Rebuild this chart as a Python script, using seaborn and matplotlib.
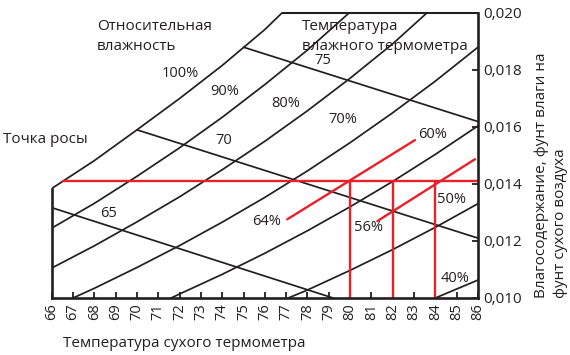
import matplotlib
matplotlib.use("Agg")
import matplotlib.pyplot as plt
import pandas as pd
import seaborn as sns

# dry bulb temperature (F) / humidity ratio (lb water per lb dry air)
rh_100_t = [66, 68, 70, 72, 74, 76, 76.8]
rh_100_w = [0.01384, 0.01482, 0.01590, 0.01700, 0.01816, 0.01942, 0.0200]
rh_90_t = [66, 68, 70, 72, 74, 76, 78, 79.95]
rh_90_w = [0.01245, 0.01332, 0.01427, 0.01527, 0.01634, 0.01749, 0.01870, 0.0200]
rh_80_t = [66, 68, 70, 72, 74, 76, 78, 80, 82, 83.6]
rh_80_w = [0.01105, 0.01183, 0.01267, 0.01355, 0.01450, 0.01550, 0.01657, 0.01771, 0.01892, 0.0200]
rh_70_t = [67.0, 68, 70, 72, 74, 76, 78, 80, 82, 84, 86]
rh_70_w = [0.0100, 0.01034, 0.01107, 0.01184, 0.01266, 0.01353, 0.01446, 0.01545, 0.01650, 0.01761, 0.01880]
rh_60_t = [71.6, 72, 74, 76, 78, 80, 82, 84, 86]
rh_60_w = [0.0100, 0.01014, 0.01083, 0.01157, 0.01236, 0.01320, 0.01409, 0.01504, 0.01604]
rh_50_t = [77.1, 78, 80, 82, 84, 86]
rh_50_w = [0.0100, 0.01028, 0.01097, 0.01170, 0.01248, 0.01331]
rh_40_t = [84.0, 86]
rh_40_w = [0.0100, 0.01063]

# wet bulb lines
wb_65_t = [66, 79.2]
wb_65_w = [0.01317, 0.0100]
wb_70_t = [70.0, 86]
wb_70_w = [0.01590, 0.01210]
wb_75_t = [75.0, 86]
wb_75_w = [0.01880, 0.01619]

# highlighted (red) construction
rh_64_t = [77.05, 83.04]
rh_64_w = [0.01276, 0.01554]
rh_56_t = [81.28, 85.86]
rh_56_w = [0.01270, 0.01487]
dew_t = [66.53, 86]
dew_w = 0.0141
red_dry_bulb = [80, 82, 84]

x_ticks = list(range(66, 87))
y_ticks = [0.010, 0.012, 0.014, 0.016, 0.018, 0.020]
y_tick_labels = ["0,010", "0,012", "0,014", "0,016", "0,018", "0,020"]

black_curves = {
    "100%": (rh_100_t, rh_100_w), "90%": (rh_90_t, rh_90_w), "80%": (rh_80_t, rh_80_w),
    "70%": (rh_70_t, rh_70_w), "60%": (rh_60_t, rh_60_w), "50%": (rh_50_t, rh_50_w),
    "40%": (rh_40_t, rh_40_w), "wb65": (wb_65_t, wb_65_w), "wb70": (wb_70_t, wb_70_w),
    "wb75": (wb_75_t, wb_75_w),
}
red_curves = {"64%": (rh_64_t, rh_64_w), "56%": (rh_56_t, rh_56_w),
              "dew": (dew_t, [dew_w, dew_w])}
for t in red_dry_bulb:
    red_curves[f"db{t}"] = ([t, t], [0.010, dew_w])


def to_frame(curves):
    rows = []
    for name, (ts, ws) in curves.items():
        for t, w in zip(ts, ws):
            rows.append({"curve": name, "t": t, "w": w})
    return pd.DataFrame(rows)


df_black = to_frame(black_curves)
df_red = to_frame(red_curves)

sns.set_theme(style="white")
plt.rcParams["font.family"] = ["Open Sans", "DejaVu Sans"]
ink = "#231f20"
red = "#e8202a"

fig = plt.figure(figsize=(5.7, 3.55), dpi=100)
ax = fig.add_axes([0.0907, 0.1606, 0.7479, 0.8028])

sns.lineplot(data=df_black, x="t", y="w", units="curve", estimator=None, sort=False,
             color=ink, lw=1.25, ax=ax, legend=False)
sns.lineplot(data=df_red, x="t", y="w", units="curve", estimator=None, sort=False,
             color=red, lw=1.7, ax=ax, legend=False)

# chart outline: left edge up to saturation, top edge from saturation
ax.plot([66, 66], [0.010, rh_100_w[0]], color=ink, lw=1.9, clip_on=False,
        solid_capstyle="projecting")
ax.plot([rh_100_t[-1], 86], [0.020, 0.020], color=ink, lw=1.5, clip_on=False)

ax.set_xlim(66, 86)
ax.set_ylim(0.010, 0.020)
ax.set_xlabel("")
ax.set_ylabel("")
for side in ["left", "top"]:
    ax.spines[side].set_visible(False)
for side in ["right", "bottom"]:
    ax.spines[side].set_color(ink)
    ax.spines[side].set_linewidth(1.9)

ax.set_xticks(x_ticks)
ax.set_xticklabels([str(t) for t in x_ticks])
ax.set_yticks(y_ticks)
ax.set_yticklabels(y_tick_labels)
ax.yaxis.tick_right()
ax.tick_params(axis="x", direction="in", length=4, width=1.3, pad=4, labelsize=10.5,
               labelrotation=90, colors=ink, bottom=True)
ax.tick_params(axis="y", direction="in", length=4, width=1.3, pad=4, labelsize=11,
               colors=ink, right=True, left=False)

# curve labels
lab = dict(fontsize=10.5, color=ink, ha="center", va="center")
ax.text(72.02, 0.01789, "100%", **lab)
ax.text(74.13, 0.01726, "90%", **lab)
ax.text(76.99, 0.01681, "80%", **lab)
ax.text(79.67, 0.01625, "70%", **lab)
ax.text(83.89, 0.01575, "60%", **lab)
ax.text(84.78, 0.01347, "50%", **lab)
ax.text(84.92, 0.01070, "40%", **lab)
ax.text(76.10, 0.01270, "64%", **lab)
ax.text(80.84, 0.01246, "56%", **lab)
ax.text(78.73, 0.01832, "75", **lab)
ax.text(74.06, 0.01551, "70", **lab)
ax.text(68.66, 0.01295, "65", **lab)

txt = dict(fontsize=11, color=ink, va="baseline", ha="left")
fig.text(97 / 570, 1 - 29.5 / 355, "Относительная", **txt)
fig.text(97 / 570, 1 - 49.5 / 355, "влажность", **txt)
fig.text(302 / 570, 1 - 29.5 / 355, "Температура", **txt)
fig.text(302 / 570, 1 - 49.5 / 355, "влажного термометра", **txt)
fig.text(3 / 570, 1 - 143 / 355, "Точка росы", **txt)
fig.text(63 / 570, 1 - 347 / 355, "Температура сухого термометра", **txt)
fig.text(545 / 570, 1 - 298 / 355, "Влагосодержание, фунт влаги на", rotation=90,
         rotation_mode="anchor", **txt)
fig.text(564 / 570, 1 - 298 / 355, "фунт сухого воздуха", rotation=90,
         rotation_mode="anchor", **txt)

fig.savefig("out.png", dpi=100, facecolor="white")
